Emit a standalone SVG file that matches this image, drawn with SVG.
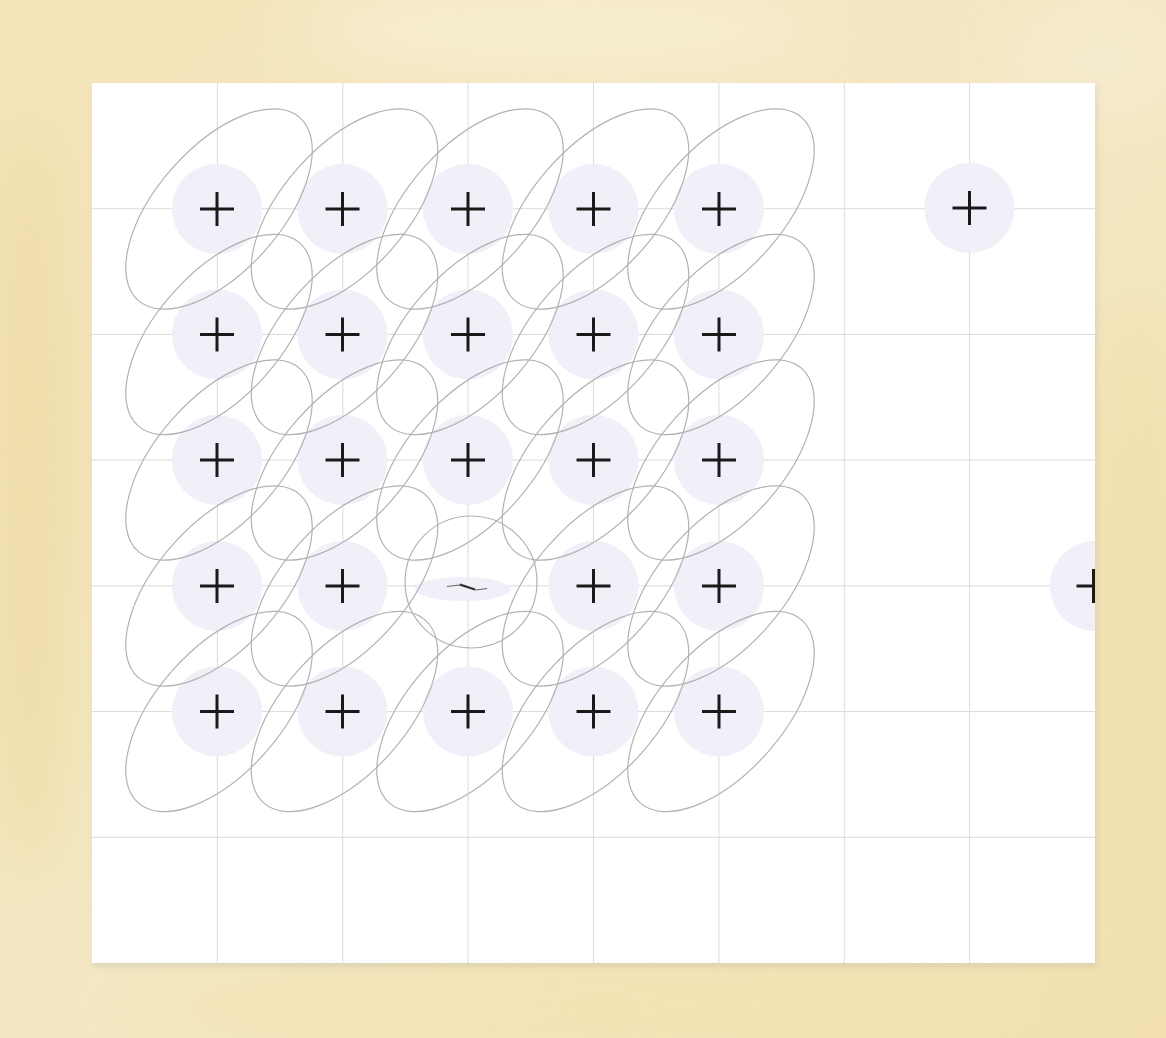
<svg xmlns="http://www.w3.org/2000/svg" width="1166" height="1038" viewBox="0 0 1166 1038">
  <defs>
    <style>
      .grid { stroke: #dadada; stroke-width: 1; fill: none; }
      .halo { fill: #eff0f8; }
      .contour { fill: none; stroke: #b2b2b2; stroke-width: 1.2; }
      .plus { stroke: #1a1a1a; stroke-width: 3; fill: none; }
    </style>
    <clipPath id="panelClip">
      <rect x="92" y="83" width="1003" height="880"/>
    </clipPath>
    <filter id="blur30" x="-50%" y="-50%" width="200%" height="200%">
      <feGaussianBlur stdDeviation="30"/>
    </filter>
    <filter id="blur3" x="-10%" y="-10%" width="120%" height="120%">
      <feGaussianBlur stdDeviation="3"/>
    </filter>
    <linearGradient id="paper" x1="0" y1="0" x2="1" y2="1">
      <stop offset="0" stop-color="#f3e4b8"/>
      <stop offset="0.5" stop-color="#f4e8c4"/>
      <stop offset="1" stop-color="#f1e0ae"/>
    </linearGradient>
    <g id="plusMark">
      <path d="M-17,0 H17 M0,-17 V17"/>
    </g>
  </defs>

  <!-- parchment background -->
  <rect x="0" y="0" width="1166" height="1038" fill="url(#paper)"/>
  <g filter="url(#blur30)" opacity="0.8">
    <ellipse cx="560" cy="30" rx="260" ry="45" fill="#f8f0d6"/>
    <ellipse cx="30" cy="500" rx="45" ry="380" fill="#eedba4"/>
    <ellipse cx="1135" cy="600" rx="40" ry="300" fill="#f0dfab"/>
    <ellipse cx="600" cy="1005" rx="480" ry="35" fill="#f3e3b3"/>
    <ellipse cx="1100" cy="60" rx="90" ry="60" fill="#f6ecd0"/>
  </g>

  <!-- panel -->
  <rect x="94" y="87" width="1003" height="880" fill="#cfc6ad" opacity="0.6" filter="url(#blur3)"/>
  <rect x="92" y="83" width="1003" height="880" fill="#ffffff"/>

  <g clip-path="url(#panelClip)">
    <!-- grid -->
    <g id="grid" class="grid">
      <line x1="217.4" y1="83" x2="217.4" y2="963"/>
      <line x1="342.8" y1="83" x2="342.8" y2="963"/>
      <line x1="468.1" y1="83" x2="468.1" y2="963"/>
      <line x1="593.5" y1="83" x2="593.5" y2="963"/>
      <line x1="718.9" y1="83" x2="718.9" y2="963"/>
      <line x1="844.3" y1="83" x2="844.3" y2="963"/>
      <line x1="969.6" y1="83" x2="969.6" y2="963"/>
      <line x1="92" y1="208.7" x2="1095" y2="208.7"/>
      <line x1="92" y1="334.4" x2="1095" y2="334.4"/>
      <line x1="92" y1="460.1" x2="1095" y2="460.1"/>
      <line x1="92" y1="585.9" x2="1095" y2="585.9"/>
      <line x1="92" y1="711.6" x2="1095" y2="711.6"/>
      <line x1="92" y1="837.3" x2="1095" y2="837.3"/>
    </g>

    <!-- halos -->
    <g id="halos" class="halo">
      <circle cx="217" cy="209" r="45"/><circle cx="342.5" cy="209" r="45"/><circle cx="468" cy="209" r="45"/><circle cx="593.5" cy="209" r="45"/><circle cx="719" cy="209" r="45"/>
      <circle cx="217" cy="334.5" r="45"/><circle cx="342.5" cy="334.5" r="45"/><circle cx="468" cy="334.5" r="45"/><circle cx="593.5" cy="334.5" r="45"/><circle cx="719" cy="334.5" r="45"/>
      <circle cx="217" cy="460" r="45"/><circle cx="342.5" cy="460" r="45"/><circle cx="468" cy="460" r="45"/><circle cx="593.5" cy="460" r="45"/><circle cx="719" cy="460" r="45"/>
      <circle cx="217" cy="586" r="45"/><circle cx="342.5" cy="586" r="45"/><ellipse cx="463" cy="589" rx="48" ry="12"/><circle cx="593.5" cy="586" r="45"/><circle cx="719" cy="586" r="45"/>
      <circle cx="217" cy="711.5" r="45"/><circle cx="342.5" cy="711.5" r="45"/><circle cx="468" cy="711.5" r="45"/><circle cx="593.5" cy="711.5" r="45"/><circle cx="719" cy="711.5" r="45"/>
      <circle cx="969.5" cy="208" r="45"/>
      <circle cx="1095" cy="586" r="45"/>
    </g>

    <!-- connectors / contours -->
    <g id="connectors" class="contour">
      <ellipse cx="219" cy="209" rx="122" ry="62" transform="rotate(-48.5 219 209)"/>
      <ellipse cx="344.5" cy="209" rx="122" ry="62" transform="rotate(-48.5 344.5 209)"/>
      <ellipse cx="470" cy="209" rx="122" ry="62" transform="rotate(-48.5 470 209)"/>
      <ellipse cx="595.5" cy="209" rx="122" ry="62" transform="rotate(-48.5 595.5 209)"/>
      <ellipse cx="721" cy="209" rx="122" ry="62" transform="rotate(-48.5 721 209)"/>
      <ellipse cx="219" cy="334.5" rx="122" ry="62" transform="rotate(-48.5 219 334.5)"/>
      <ellipse cx="344.5" cy="334.5" rx="122" ry="62" transform="rotate(-48.5 344.5 334.5)"/>
      <ellipse cx="470" cy="334.5" rx="122" ry="62" transform="rotate(-48.5 470 334.5)"/>
      <ellipse cx="595.5" cy="334.5" rx="122" ry="62" transform="rotate(-48.5 595.5 334.5)"/>
      <ellipse cx="721" cy="334.5" rx="122" ry="62" transform="rotate(-48.5 721 334.5)"/>
      <ellipse cx="219" cy="460" rx="122" ry="62" transform="rotate(-48.5 219 460)"/>
      <ellipse cx="344.5" cy="460" rx="122" ry="62" transform="rotate(-48.5 344.5 460)"/>
      <ellipse cx="470" cy="460" rx="122" ry="62" transform="rotate(-48.5 470 460)"/>
      <ellipse cx="595.5" cy="460" rx="122" ry="62" transform="rotate(-48.5 595.5 460)"/>
      <ellipse cx="721" cy="460" rx="122" ry="62" transform="rotate(-48.5 721 460)"/>
      <ellipse cx="219" cy="586" rx="122" ry="62" transform="rotate(-48.5 219 586)"/>
      <ellipse cx="344.5" cy="586" rx="122" ry="62" transform="rotate(-48.5 344.5 586)"/>
      <circle cx="471" cy="582" r="66"/>
      <ellipse cx="595.5" cy="586" rx="122" ry="62" transform="rotate(-48.5 595.5 586)"/>
      <ellipse cx="721" cy="586" rx="122" ry="62" transform="rotate(-48.5 721 586)"/>
      <ellipse cx="219" cy="711.5" rx="122" ry="62" transform="rotate(-48.5 219 711.5)"/>
      <ellipse cx="344.5" cy="711.5" rx="122" ry="62" transform="rotate(-48.5 344.5 711.5)"/>
      <ellipse cx="470" cy="711.5" rx="122" ry="62" transform="rotate(-48.5 470 711.5)"/>
      <ellipse cx="595.5" cy="711.5" rx="122" ry="62" transform="rotate(-48.5 595.5 711.5)"/>
      <ellipse cx="721" cy="711.5" rx="122" ry="62" transform="rotate(-48.5 721 711.5)"/>
    </g>

    <!-- nodes -->
    <g class="plus">
      <g id="p11"><use href="#plusMark" x="217" y="209"/></g>
      <g id="p12"><use href="#plusMark" x="342.5" y="209"/></g>
      <g id="p13"><use href="#plusMark" x="468" y="209"/></g>
      <g id="p14"><use href="#plusMark" x="593.5" y="209"/></g>
      <g id="p15"><use href="#plusMark" x="719" y="209"/></g>
      <g id="p21"><use href="#plusMark" x="217" y="334.5"/></g>
      <g id="p22"><use href="#plusMark" x="342.5" y="334.5"/></g>
      <g id="p23"><use href="#plusMark" x="468" y="334.5"/></g>
      <g id="p24"><use href="#plusMark" x="593.5" y="334.5"/></g>
      <g id="p25"><use href="#plusMark" x="719" y="334.5"/></g>
      <g id="p31"><use href="#plusMark" x="217" y="460"/></g>
      <g id="p32"><use href="#plusMark" x="342.5" y="460"/></g>
      <g id="p33"><use href="#plusMark" x="468" y="460"/></g>
      <g id="p34"><use href="#plusMark" x="593.5" y="460"/></g>
      <g id="p35"><use href="#plusMark" x="719" y="460"/></g>
      <g id="p41"><use href="#plusMark" x="217" y="586"/></g>
      <g id="p42"><use href="#plusMark" x="342.5" y="586"/></g>
      <g id="p43">
        <path d="M447,586.5 L459,585 L476,590 L487,588.5" stroke="#666" stroke-width="1.2"/>
        <path d="M460,584.5 L475,589.5" stroke="#333" stroke-width="2"/>
      </g>
      <g id="p44"><use href="#plusMark" x="593.5" y="586"/></g>
      <g id="p45"><use href="#plusMark" x="719" y="586"/></g>
      <g id="p51"><use href="#plusMark" x="217" y="711.5"/></g>
      <g id="p52"><use href="#plusMark" x="342.5" y="711.5"/></g>
      <g id="p53"><use href="#plusMark" x="468" y="711.5"/></g>
      <g id="p54"><use href="#plusMark" x="593.5" y="711.5"/></g>
      <g id="p55"><use href="#plusMark" x="719" y="711.5"/></g>
      <g id="p17"><use href="#plusMark" x="969.5" y="208"/></g>
      <g id="p48"><use href="#plusMark" x="1093.5" y="586"/></g>
    </g>
  </g>
</svg>
